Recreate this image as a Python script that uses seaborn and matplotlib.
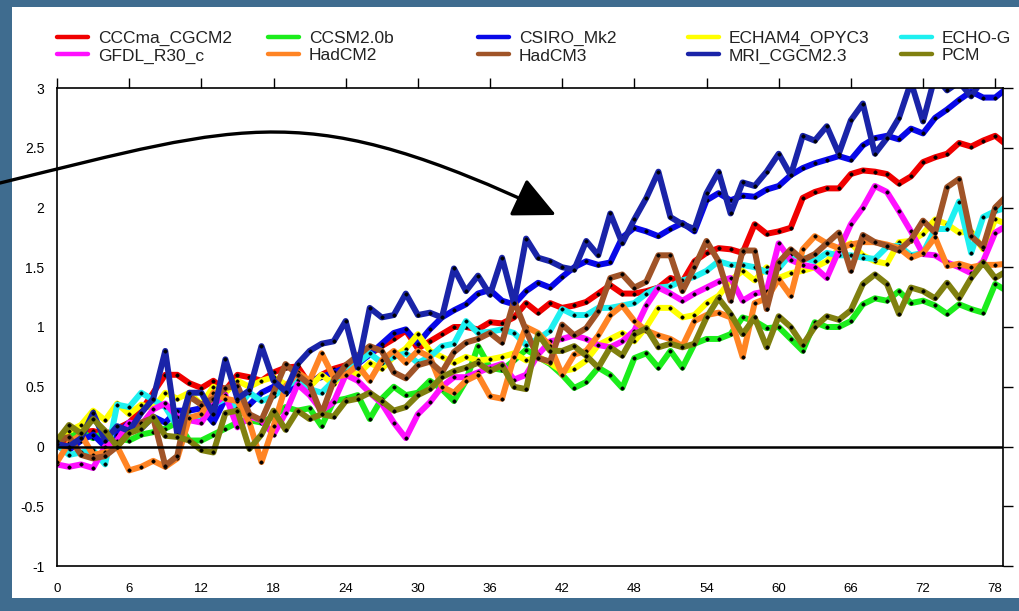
import matplotlib
matplotlib.use("Agg")
import numpy as np
import pandas as pd
import matplotlib.pyplot as plt
import seaborn as sns
from matplotlib.patches import Rectangle, FancyArrowPatch
from matplotlib.path import Path
from matplotlib.lines import Line2D
from matplotlib import font_manager

# ---------------- data ----------------
years = list(range(80))
models = ["CCCma_CGCM2", "CCSM2.0b", "CSIRO_Mk2", "ECHAM4_OPYC3", "ECHO-G",
          "GFDL_R30_c", "HadCM2", "HadCM3", "MRI_CGCM2.3", "PCM"]
colors = ["#f00000", "#1ced1c", "#0808e8", "#ffff00", "#1ef0f0",
          "#ff10ff", "#ff8424", "#a05428", "#1a24a8", "#808010"]

cccma = [
    0.00, 0.05, 0.12, 0.13, 0.10, 0.15, 0.20, 0.30, 0.45, 0.60,
    0.60, 0.53, 0.49, 0.55, 0.47, 0.60, 0.58, 0.55, 0.62, 0.66,
    0.67, 0.52, 0.60, 0.65, 0.68, 0.71, 0.77, 0.84, 0.90, 0.97,
    0.82, 0.88, 0.94, 1.00, 1.00, 0.98, 1.04, 1.03, 1.08, 1.20,
    1.12, 1.20, 1.16, 1.18, 1.21, 1.28, 1.35, 1.28, 1.28, 1.30,
    1.33, 1.41, 1.38, 1.55, 1.62, 1.66, 1.65, 1.62, 1.86, 1.78,
    1.80, 1.83, 2.08, 2.13, 2.16, 2.16, 2.28, 2.31, 2.30, 2.28,
    2.20, 2.26, 2.38, 2.42, 2.45, 2.54, 2.51, 2.56, 2.60, 2.52]
ccsm = [
    0.05, 0.08, 0.12, 0.07, 0.12, 0.07, 0.05, 0.10, 0.12, 0.15,
    0.20, 0.05, 0.05, 0.10, 0.15, 0.20, 0.22, 0.20, 0.25, 0.33,
    0.30, 0.32, 0.17, 0.38, 0.40, 0.43, 0.23, 0.40, 0.50, 0.43,
    0.45, 0.55, 0.48, 0.38, 0.55, 0.84, 0.66, 0.64, 0.72, 0.81,
    0.75, 0.69, 0.60, 0.49, 0.54, 0.66, 0.60, 0.49, 0.74, 0.78,
    0.66, 0.80, 0.66, 0.86, 0.90, 0.90, 0.94, 1.08, 1.05, 0.99,
    1.00, 0.90, 0.80, 1.04, 1.00, 1.00, 1.05, 1.19, 1.24, 1.22,
    1.30, 1.20, 1.22, 1.18, 1.11, 1.19, 1.15, 1.12, 1.36, 1.30]
csiro = [
    0.00, -0.03, 0.05, 0.10, 0.00, 0.10, 0.20, 0.15, 0.25, 0.20,
    0.30, 0.30, 0.32, 0.20, 0.40, 0.30, 0.35, 0.45, 0.50, 0.44,
    0.55, 0.55, 0.58, 0.62, 0.66, 0.69, 0.77, 0.86, 0.95, 0.98,
    0.86, 0.98, 1.08, 1.14, 1.19, 1.28, 1.31, 1.22, 1.19, 1.30,
    1.37, 1.33, 1.42, 1.50, 1.55, 1.52, 1.54, 1.75, 1.83, 1.80,
    1.76, 1.82, 1.87, 1.80, 2.06, 2.12, 2.06, 2.10, 2.09, 2.15,
    2.18, 2.27, 2.33, 2.37, 2.40, 2.43, 2.40, 2.52, 2.58, 2.60,
    2.57, 2.66, 2.62, 2.75, 2.82, 2.90, 2.97, 2.92, 2.92, 3.00]
echam4 = [
    0.07, 0.13, 0.18, 0.30, 0.22, 0.36, 0.27, 0.35, 0.32, 0.45,
    0.40, 0.45, 0.35, 0.50, 0.45, 0.55, 0.50, 0.55, 0.58, 0.52,
    0.55, 0.50, 0.60, 0.52, 0.65, 0.60, 0.70, 0.65, 0.75, 0.82,
    0.94, 0.80, 0.75, 0.70, 0.75, 0.72, 0.73, 0.75, 0.78, 0.72,
    0.75, 0.70, 0.63, 0.65, 0.72, 0.85, 0.90, 0.95, 0.88, 1.00,
    1.16, 1.16, 1.08, 1.10, 1.20, 1.26, 1.39, 1.47, 1.39, 1.50,
    1.41, 1.45, 1.47, 1.50, 1.55, 1.65, 1.70, 1.60, 1.55, 1.53,
    1.71, 1.72, 1.78, 1.90, 1.86, 1.79, 1.80, 1.65, 1.90, 1.86]
echog = [
    0.02, -0.07, -0.05, -0.03, -0.15, 0.35, 0.33, 0.45, 0.39, 0.33,
    0.17, 0.25, 0.22, 0.35, 0.40, 0.32, 0.45, 0.38, 0.42, 0.50,
    0.56, 0.48, 0.45, 0.55, 0.62, 0.70, 0.78, 0.70, 0.75, 0.78,
    0.70, 0.75, 0.84, 0.86, 1.05, 0.95, 0.96, 0.98, 0.95, 0.85,
    0.90, 0.97, 1.15, 1.10, 1.10, 1.16, 1.16, 1.18, 1.20, 1.28,
    1.33, 1.34, 1.39, 1.42, 1.47, 1.55, 1.52, 1.52, 1.50, 1.46,
    1.49, 1.61, 1.58, 1.55, 1.62, 1.60, 1.60, 1.58, 1.57, 1.67,
    1.68, 1.60, 1.62, 1.82, 1.82, 2.05, 1.62, 1.92, 1.97, 2.00]
gfdl = [
    -0.15, -0.17, -0.15, -0.18, 0.00, 0.05, 0.20, 0.18, 0.31, 0.36,
    0.25, 0.22, 0.20, 0.35, 0.43, 0.16, 0.25, 0.22, 0.10, 0.28,
    0.52, 0.43, 0.30, 0.37, 0.60, 0.55, 0.45, 0.36, 0.20, 0.07,
    0.27, 0.37, 0.50, 0.58, 0.58, 0.62, 0.66, 0.69, 0.56, 0.60,
    0.77, 0.88, 0.90, 0.93, 0.90, 0.85, 0.83, 0.88, 0.97, 1.18,
    1.33, 1.28, 1.22, 1.28, 1.33, 1.38, 1.41, 1.22, 1.28, 1.30,
    1.70, 1.56, 1.52, 1.50, 1.41, 1.64, 1.86, 2.00, 2.18, 2.13,
    1.97, 1.80, 1.61, 1.60, 1.54, 1.50, 1.45, 1.55, 1.79, 1.85]
hadcm2 = [
    -0.13, 0.03, 0.10, -0.07, -0.05, 0.00, -0.20, -0.17, -0.12, -0.17,
    -0.10, 0.24, 0.27, 0.45, 0.40, 0.38, 0.20, -0.13, 0.17, 0.50,
    0.62, 0.55, 0.78, 0.58, 0.60, 0.68, 0.55, 0.72, 0.80, 0.70,
    0.80, 0.75, 0.50, 0.45, 0.55, 0.60, 0.42, 0.40, 0.75, 1.00,
    0.95, 0.84, 0.60, 0.77, 0.80, 0.93, 1.10, 1.18, 1.05, 0.97,
    0.93, 0.90, 0.84, 1.05, 1.10, 1.12, 1.08, 0.75, 1.20, 1.24,
    1.40, 1.26, 1.65, 1.76, 1.70, 1.66, 1.69, 1.71, 1.71, 1.69,
    1.66, 1.58, 1.62, 1.75, 1.51, 1.53, 1.50, 1.52, 1.52, 1.53]
hadcm3 = [
    0.05, 0.08, -0.07, -0.10, -0.08, 0.00, 0.12, 0.20, 0.24, -0.16,
    -0.08, 0.42, 0.35, 0.40, 0.49, 0.51, 0.27, 0.22, 0.45, 0.69,
    0.60, 0.52, 0.27, 0.55, 0.68, 0.76, 0.84, 0.80, 0.62, 0.57,
    0.68, 0.71, 0.62, 0.79, 0.87, 0.90, 0.95, 0.87, 1.22, 0.97,
    0.74, 0.71, 1.02, 0.93, 0.99, 1.13, 1.41, 1.44, 1.33, 1.38,
    1.60, 1.60, 1.30, 1.50, 1.72, 1.55, 1.22, 1.64, 1.64, 1.15,
    1.54, 1.65, 1.56, 1.61, 1.70, 1.79, 1.47, 1.77, 1.71, 1.68,
    1.64, 1.73, 1.89, 1.79, 2.17, 2.24, 1.76, 1.67, 2.00, 2.10]
mri = [
    0.02, 0.00, 0.07, 0.28, 0.05, 0.17, 0.13, 0.28, 0.40, 0.80,
    0.10, 0.45, 0.45, 0.27, 0.73, 0.40, 0.47, 0.84, 0.55, 0.46,
    0.69, 0.80, 0.86, 0.88, 1.05, 0.66, 1.16, 1.08, 1.10, 1.28,
    1.10, 1.12, 1.08, 1.49, 1.30, 1.43, 1.27, 1.58, 1.20, 1.74,
    1.58, 1.55, 1.50, 1.48, 1.72, 1.60, 1.95, 1.70, 1.90, 2.08,
    2.30, 1.92, 1.86, 1.82, 2.12, 2.30, 1.95, 2.21, 2.18, 2.30,
    2.45, 2.27, 2.60, 2.56, 2.68, 2.45, 2.73, 2.87, 2.45, 2.58,
    2.75, 3.05, 2.72, 3.10, 2.98, 3.05, 2.93, 3.08, 3.05, 3.10]
pcm = [
    0.05, 0.18, 0.11, 0.23, 0.13, 0.00, 0.11, 0.15, 0.25, 0.09,
    0.08, 0.05, -0.03, -0.05, 0.28, 0.30, -0.02, 0.10, 0.30, 0.14,
    0.30, 0.23, 0.27, 0.25, 0.38, 0.40, 0.45, 0.38, 0.30, 0.33,
    0.43, 0.48, 0.58, 0.63, 0.66, 0.70, 0.63, 0.68, 0.50, 0.48,
    0.94, 0.80, 0.80, 0.84, 0.76, 0.66, 0.83, 0.76, 0.94, 0.99,
    0.83, 0.86, 0.83, 0.86, 1.08, 1.24, 1.11, 0.94, 1.08, 0.83,
    1.09, 1.00, 0.85, 1.00, 1.09, 1.06, 1.14, 1.36, 1.44, 1.36,
    1.11, 1.33, 1.30, 1.24, 1.37, 1.24, 1.41, 1.54, 1.41, 1.47]

series = [cccma, ccsm, csiro, echam4, echog, gfdl, hadcm2, hadcm3, mri, pcm]

xticks = list(range(0, 79, 6))
yticks = [-1, -0.5, 0, 0.5, 1, 1.5, 2, 2.5, 3]
yticklabels = ["-1", "-0.5", "0", "0.5", "1", "1.5", "2", "2.5", "3"]

# ---------------- styling ----------------
sns.set_style("white")
plt.rcParams["font.family"] = ["Liberation Sans", "DejaVu Sans"]
names = {f.name for f in font_manager.fontManager.ttflist}
narrow = "Liberation Sans Narrow" if "Liberation Sans Narrow" in names else "Liberation Sans"

W, H = 1019, 611
BG = "#3f6c8f"
fig = plt.figure(figsize=(W / 100, H / 100), dpi=100, facecolor=BG)
fig.add_artist(Rectangle((12 / W, 13 / H), 1 - 12 / W, (598 - 7) / H,
                         transform=fig.transFigure, facecolor="white",
                         edgecolor="none", zorder=-5))

ax = fig.add_axes([57 / W, 1 - 566 / H, (1003 - 57) / W, (566 - 88) / H])
ax.set_facecolor("white")

df = pd.DataFrame({
    "year": years * len(models),
    "anomaly": [v for s in series for v in s],
    "model": [m for m in models for _ in years],
})

for m, c in zip(models, colors):
    sns.lineplot(data=df[df["model"] == m], x="year", y="anomaly", color=c,
                 linewidth=4.3, marker="o", markersize=2.5,
                 markerfacecolor="black", markeredgecolor="black",
                 markeredgewidth=0.3, sort=False, estimator=None,
                 legend=False, ax=ax)

ax.axhline(0, color="black", lw=1.8, zorder=6)

ax.set_xlim(0, 78.65)
ax.set_ylim(-1, 3)
ax.set_xticks(xticks)
ax.set_xticklabels([str(x) for x in xticks], family=narrow, fontsize=9.5)
ax.set_yticks(yticks)
ax.set_yticklabels(yticklabels, fontsize=10)
ax.set_xlabel("")
ax.set_ylabel("")
ax.tick_params(axis="both", direction="out", length=7, width=1.0,
               colors="black", top=True, right=True,
               labeltop=False, labelright=False)
ax.tick_params(axis="x", pad=5)
ax.tick_params(axis="y", pad=2)
for sp in ax.spines.values():
    sp.set_visible(True)
    sp.set_color("black")
    sp.set_linewidth(1.2)

# legend: five columns of two entries each
col_x = [57, 268, 478, 688, 901]
for i in range(5):
    hs = [Line2D([], [], color=colors[i], lw=3.2),
          Line2D([], [], color=colors[i + 5], lw=3.2)]
    leg = fig.legend(hs, [models[i], models[i + 5]], loc="upper left",
                     bbox_to_anchor=(col_x[i] / W, 1 - 31 / H),
                     frameon=False, fontsize=12.5, handlelength=1.8,
                     handletextpad=0.55, labelspacing=0.12,
                     borderpad=0, borderaxespad=0)
    for t in leg.get_texts():
        t.set_color("#222222")

# curved annotation arrow (cubic Bezier, figure-pixel control points)
def fp(x, y):
    return (x / W, 1 - y / H)

arrow_path = Path([fp(0, 183), fp(250, 122), fp(306, 98), fp(556, 215)],
                  [Path.MOVETO, Path.CURVE4, Path.CURVE4, Path.CURVE4])
arrow = FancyArrowPatch(path=arrow_path, transform=fig.transFigure,
                        arrowstyle="-|>,head_length=1.25,head_width=0.6",
                        mutation_scale=21, lw=2.4, color="black", zorder=20)
fig.add_artist(arrow)

fig.savefig("out.png", dpi=100, facecolor=BG)
